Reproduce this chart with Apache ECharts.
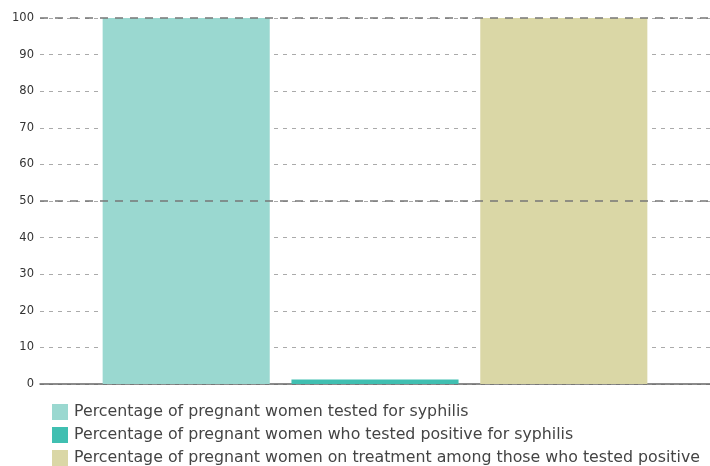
<!DOCTYPE html>
<html>
<head>
<meta charset="utf-8">
<script src="https://cdn.jsdelivr.net/npm/echarts@6/dist/echarts.min.js"></script>
<style>
  html, body { margin: 0; padding: 0; background: #fff; }
  #chart { width: 710px; height: 466px; }
</style>
</head>
<body>
<div id="chart"></div>
<script>
// data
const categories = ['Syphilis'];
const seriesNames = [
    'Percentage of pregnant women tested for syphilis',
    'Percentage of pregnant women who tested positive for syphilis',
    'Percentage of pregnant women on treatment among those who tested positive'
];
const seriesValues = [100, 1.2, 100];
const seriesColors = ['#9ad8d0', '#40bfb1', '#dad7a6'];
const yTicks = [0, 10, 20, 30, 40, 50, 60, 70, 80, 90, 100];
const strongLines = [50, 100];

const chart = echarts.init(document.getElementById('chart'));

const series = seriesNames.map(function (name, i) {
    return {
        name: name,
        type: 'bar',
        data: [seriesValues[i]],
        barGap: '13%',
        barCategoryGap: '18.7%',
        z: 3,
        itemStyle: { color: seriesColors[i] }
    };
});

// darker lines at 50 and 100, kept behind the bars
series.push({
    name: 'grid-strong',
    type: 'line',
    data: [],
    z: 1,
    markLine: {
        silent: true,
        symbol: 'none',
        label: { show: false },
        lineStyle: { color: '#777', type: [8, 7], width: 1.5 },
        data: strongLines.map(function (v) { return { yAxis: v }; })
    }
});

chart.setOption({
    animation: false,
    grid: { left: 40, right: 0, top: 18, bottom: 82 },
    legend: {
        orient: 'vertical',
        left: 52,
        top: 404,
        height: 70,
        padding: 0,
        itemWidth: 16,
        itemHeight: 16,
        itemGap: 7,
        icon: 'rect',
        textStyle: { fontFamily: 'DejaVu Sans', fontSize: 15.8, color: '#444', lineHeight: 16, padding: [0, 0, 0, 1] },
        data: seriesNames
    },
    xAxis: {
        type: 'category',
        data: categories,
        axisLabel: { show: false },
        axisTick: { show: false },
        axisLine: { lineStyle: { color: '#666', width: 1.5 } }
    },
    yAxis: {
        type: 'value',
        min: yTicks[0],
        max: yTicks[yTicks.length - 1],
        interval: 10,
        axisLine: { show: false },
        axisTick: { show: false },
        axisLabel: { fontFamily: 'DejaVu Sans', fontSize: 11.5, color: '#333', margin: 6 },
        splitLine: { lineStyle: { color: '#aaa', type: [4, 5], width: 1 } }
    },
    series: series
});
</script>
</body>
</html>
